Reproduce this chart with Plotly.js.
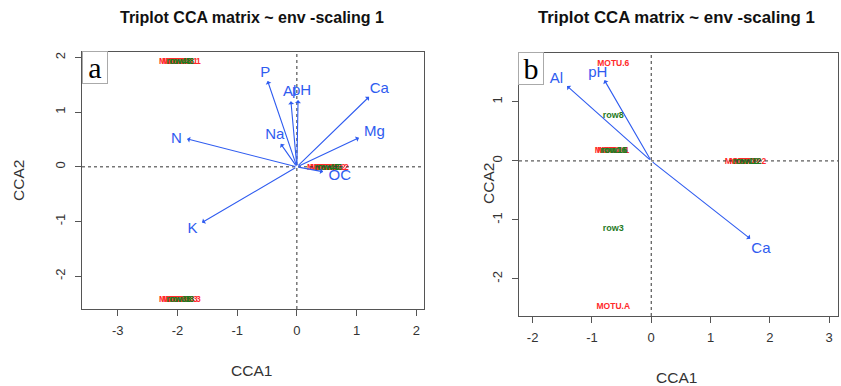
<!DOCTYPE html>
<html>
<head>
<meta charset="utf-8">
<script src="https://cdn.plot.ly/plotly-3.0.1.min.js"></script>
<style>html,body{margin:0;padding:0;background:#fff}#chart{width:841px;height:386px}</style>
</head>
<body>
<div id="chart"></div>
<script>
// ---- Panel a data ----
const envA = ["P", "Al", "pH", "Ca", "Mg", "Na", "N", "K", "OC"];
const envAX = [-0.49, -0.10, 0.02, 1.21, 1.04, -0.27, -1.84, -1.59, 0.44];
const envAY = [1.57, 1.20, 1.22, 1.28, 0.53, 0.42, 0.51, -1.02, -0.09];
const envALabX = [-0.53, -0.12, 0.08, 1.38, 1.30, -0.37, -2.02, -1.75, 0.72];
const envALabY = [1.72, 1.36, 1.38, 1.41, 0.64, 0.57, 0.51, -1.14, -0.18];
const siteAX = [-1.96, -1.96, 0.52];
const siteAY = [1.92, -2.43, -0.02];
const siteARow = ["row48", "row38", "row45"];
const siteAMotu = ["MOTU.1", "MOTU.3", "MOTU.2"];

// ---- Panel b data ----
const envB = ["Al", "pH", "Ca"];
const envBX = [-1.42, -0.79, 1.67];
const envBY = [1.27, 1.37, -1.32];
const envBLabX = [-1.60, -0.90, 1.85];
const envBLabY = [1.39, 1.49, -1.49];
const siteBMotuX = [-0.64, -0.64, -0.64, 1.59];
const siteBMotuY = [1.64, 0.17, -2.47, -0.02];
const siteBMotu = ["MOTU.6", "MOTU.1", "MOTU.A", "MOTU.2"];
const siteBRowX = [-0.64, -0.64, -0.64, 1.59];
const siteBRowY = [0.76, 0.17, -1.15, -0.02];
const siteBRow = ["row8", "row16", "row3", "row12"];

const ticksAX = [-3, -2, -1, 0, 1, 2];
const ticksAY = [-2, -1, 0, 1, 2];
const ticksBX = [-2, -1, 0, 1, 2, 3];
const ticksBY = [-2, -1, 0, 1];

const BLUE = "#2f5cf0";
const RED = "#ff2a2a";
const GREEN = "#1f7a1f";
const W = 841, H = 386;

const traces = [];
function siteText(xs, ys, texts, color, xa, ya, dx, dy, size) {
  traces.push({
    type: "scatter", mode: "text", xaxis: xa, yaxis: ya,
    x: xs.map(v => v + (dx || 0)), y: ys.map(v => v + (dy || 0)), text: texts,
    textfont: {family: "Liberation Sans, Arial", size: size || 8.5, color: color, weight: "bold"},
    hoverinfo: "skip", showlegend: false
  });
}
// panel a: overlapping red + green labels
[-0.08, -0.03, 0.03, 0.08].forEach(d => siteText(siteAX, siteAY, siteAMotu, RED, "x", "y", d, 0));
[-0.02, 0.03].forEach(d => siteText(siteAX, siteAY, siteARow, GREEN, "x", "y", d, 0));
// panel b
siteText(siteBMotuX.slice(1,2), siteBMotuY.slice(1,2), siteBMotu.slice(1,2), RED, "x2", "y2", -0.04, 0);
siteText(siteBMotuX.slice(3), siteBMotuY.slice(3), siteBMotu.slice(3), RED, "x2", "y2", -0.08, 0);
siteText(siteBMotuX.slice(3), siteBMotuY.slice(3), siteBMotu.slice(3), RED, "x2", "y2", 0.08, 0);
siteText(siteBMotuX, siteBMotuY, siteBMotu, RED, "x2", "y2", 0, 0);
siteText(siteBRowX, siteBRowY, siteBRow, GREEN, "x2", "y2", 0, 0, 9);
siteText(siteBRowX.slice(1,2), siteBRowY.slice(1,2), siteBRow.slice(1,2), GREEN, "x2", "y2", 0.02, 0, 9);
siteText(siteBRowX.slice(3), siteBRowY.slice(3), siteBRow.slice(3), GREEN, "x2", "y2", 0.05, 0, 9);

// env labels
traces.push({type: "scatter", mode: "text", xaxis: "x", yaxis: "y", x: envALabX, y: envALabY, text: envA,
  textfont: {family: "Liberation Sans, Arial", size: 15, color: BLUE}, hoverinfo: "skip", showlegend: false});
traces.push({type: "scatter", mode: "text", xaxis: "x2", yaxis: "y2", x: envBLabX, y: envBLabY, text: envB,
  textfont: {family: "Liberation Sans, Arial", size: 15, color: BLUE}, hoverinfo: "skip", showlegend: false});

const annotations = [];
function arrows(xs, ys, xr, yr) {
  xs.forEach((v, i) => annotations.push({
    x: v, y: ys[i], ax: 0, ay: 0, xref: xr, yref: yr, axref: xr, ayref: yr,
    text: "", showarrow: true, arrowhead: 1, arrowsize: 0.9, arrowwidth: 1.1, arrowcolor: BLUE, standoff: 0
  }));
}
arrows(envAX, envAY, "x", "y");
arrows(envBX, envBY, "x2", "y2");

function pt(txt, x, y, opts) {
  annotations.push(Object.assign({text: txt, xref: "paper", yref: "paper", x: x / W, y: 1 - y / H,
    showarrow: false, xanchor: "center", yanchor: "middle"}, opts || {}));
}
pt("<b>Triplot CCA matrix ~ env -scaling 1</b>", 252, 18, {font: {family: "Liberation Sans, Arial", size: 16, color: "#111"}});
pt("<b>Triplot CCA matrix ~ env -scaling 1</b>", 676, 18, {font: {family: "Liberation Sans, Arial", size: 16.8, color: "#111"}});
const axFont = {family: "Liberation Sans, Arial", size: 15.5, color: "#333"};
pt("CCA1", 251, 370, {font: axFont});
pt("CCA1", 676, 377, {font: axFont});
pt("CCA2", 18, 181, {font: axFont, textangle: -90});
pt("CCA2", 489, 184, {font: axFont, textangle: -90});
// panel letters
const letterFont = {family: "Liberation Serif, Times New Roman", size: 30, color: "#000"};
pt("a", 95, 68, {font: letterFont, bgcolor: "#fff", bordercolor: "#aaa", borderwidth: 1, borderpad: 0, width: 24, height: 31});
pt("b", 531, 69, {font: letterFont, bgcolor: "#fff", bordercolor: "#aaa", borderwidth: 1, borderpad: 0, width: 24, height: 31});

const shapes = [
  {type: "line", xref: "x", yref: "y domain", x0: 0, x1: 0, y0: 0, y1: 1, line: {color: "#333", width: 1, dash: "dot"}},
  {type: "line", xref: "x domain", yref: "y", x0: 0, x1: 1, y0: 0, y1: 0, line: {color: "#333", width: 1, dash: "dot"}},
  {type: "line", xref: "x2", yref: "y2 domain", x0: 0, x1: 0, y0: 0, y1: 1, line: {color: "#333", width: 1, dash: "dot"}},
  {type: "line", xref: "x2 domain", yref: "y2", x0: 0, x1: 1, y0: 0, y1: 0, line: {color: "#333", width: 1, dash: "dot"}}
];

function axis(dom, range, ticks, anchor, isY) {
  return {
    domain: dom, range: range, anchor: anchor, tickmode: "array", tickvals: ticks,
    ticktext: ticks.map(String), showgrid: false, zeroline: false, showline: true, mirror: true,
    linecolor: "#555", linewidth: 1.2, ticks: "outside", ticklen: 6, tickcolor: "#555",
    tickfont: {family: "Liberation Sans, Arial", size: 13, color: "#333"},
    tickangle: isY ? -90 : 0, ticklabelstandoff: isY ? 5 : 3, fixedrange: true
  };
}
const layout = {
  width: W, height: H, margin: {l: 0, r: 0, t: 0, b: 0}, paper_bgcolor: "#fff", plot_bgcolor: "#fff",
  showlegend: false,
  xaxis: axis([82 / W, 424 / W], [-3.6, 2.13], ticksAX, "y", false),
  yaxis: axis([1 - 309 / H, 1 - 52 / H], [-2.6, 2.1], ticksAY, "x", true),
  xaxis2: axis([519 / W, 838 / W], [-2.23, 3.15], ticksBX, "y2", false),
  yaxis2: axis([1 - 316 / H, 1 - 53 / H], [-2.63, 1.83], ticksBY, "x2", true),
  annotations: annotations, shapes: shapes
};
Plotly.newPlot("chart", traces, layout, {staticPlot: true, displayModeBar: false});
</script>
</body>
</html>
